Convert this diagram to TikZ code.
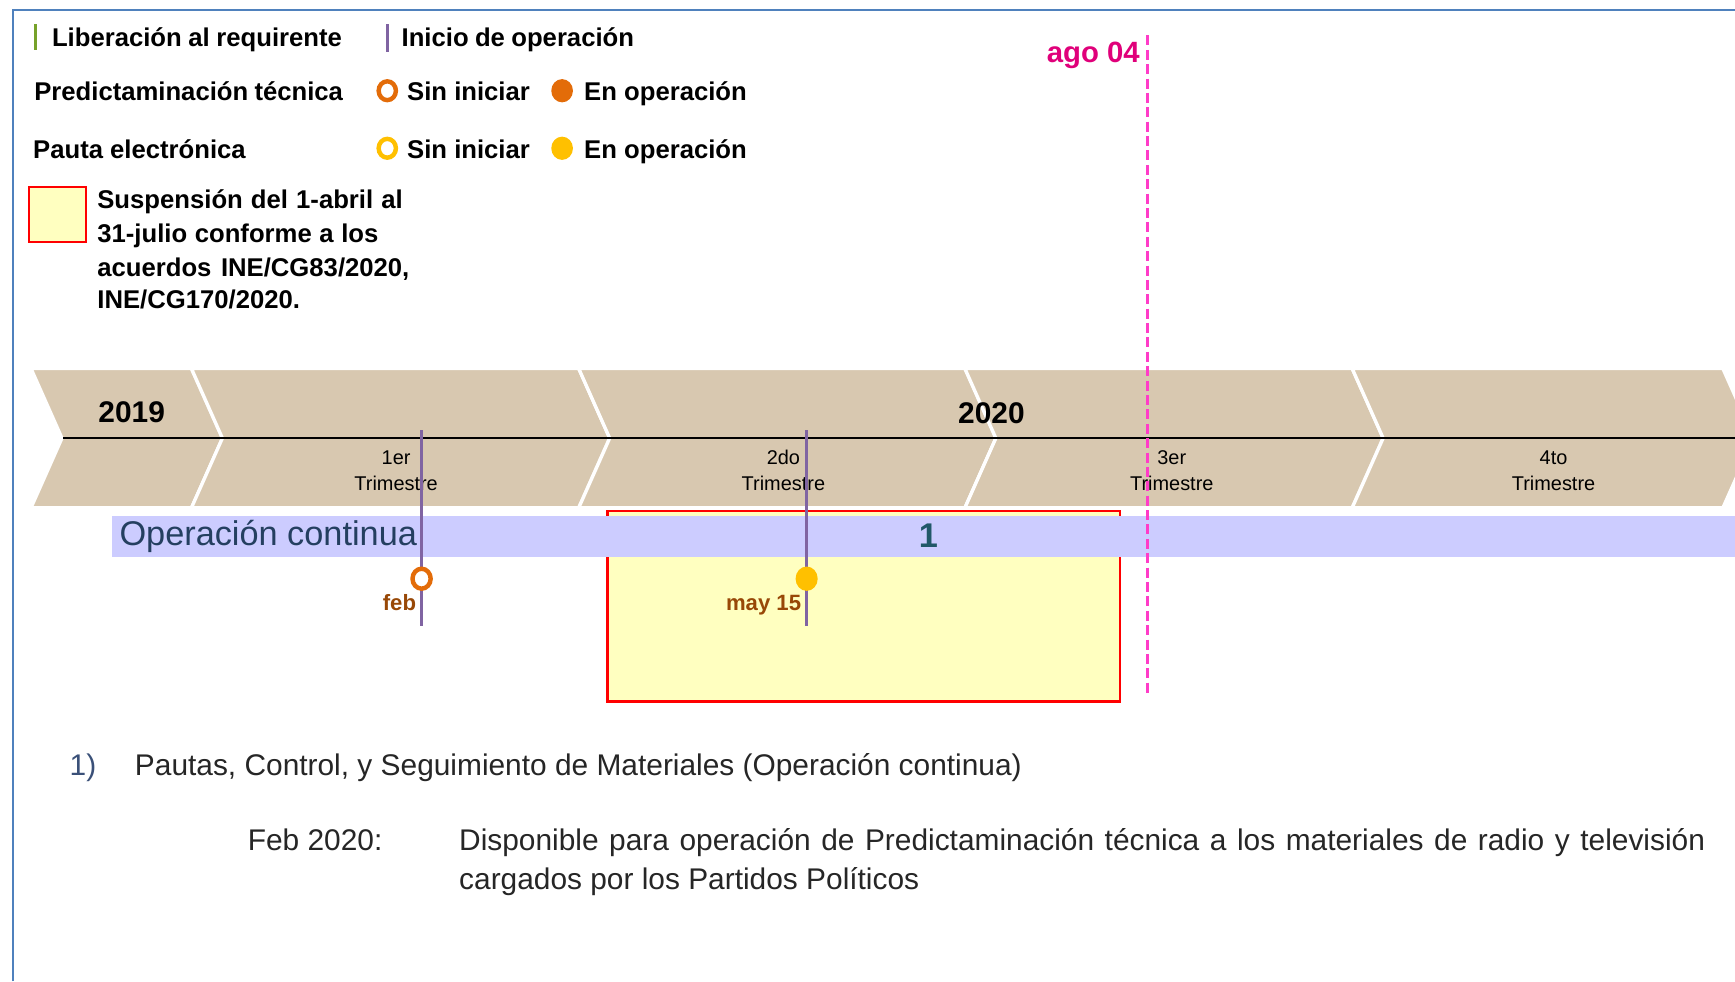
\documentclass[tikz,border=0pt]{standalone}
\usepackage{fontspec}
\setmainfont{Liberation Sans}
\usetikzlibrary{shapes.geometric}
\definecolor{frameblue}{HTML}{4F81BD}
\definecolor{legGreen}{HTML}{77A22A}
\definecolor{legPurple}{HTML}{8064A2}
\definecolor{pOrange}{HTML}{E36C09}
\definecolor{pYellow}{HTML}{FFC000}
\definecolor{suspFill}{HTML}{FFFFC0}
\definecolor{suspRed}{HTML}{FF0000}
\definecolor{chevTan}{HTML}{D8C8B0}
\definecolor{barBlue}{HTML}{CCCCFF}
\definecolor{opText}{HTML}{243F60}
\definecolor{numTeal}{HTML}{215868}
\definecolor{agoMag}{HTML}{E0007A}
\definecolor{dashPink}{HTML}{FF3CC8}
\definecolor{brownTxt}{HTML}{984807}
\definecolor{bodyGray}{HTML}{262626}
\definecolor{numBlue}{HTML}{3A5078}
\begin{document}
\begin{tikzpicture}[x=0.5pt,y=-0.5pt,
  txt/.style={inner sep=0pt, outer sep=0pt},
  legtxt/.style={txt, anchor=base west, font=\fontsize{11.6}{13.5}\selectfont\bfseries},
  legbar/.style={line width=1.5pt},
  opendot/.style={ellipse, draw=#1, fill=white, line width=2pt, minimum width=7.8pt, minimum height=8.5pt, inner sep=0pt},
  fulldot/.style={ellipse, fill=#1, minimum width=9.8pt, minimum height=10.5pt, inner sep=0pt},
  chevron/.style={fill=chevTan, draw=white, line width=1.5pt, line join=miter},
  yearlbl/.style={txt, anchor=base, font=\fontsize{13.5}{16}\selectfont\bfseries},
  qlbl/.style={txt, anchor=base, font=\fontsize{9}{11}\selectfont},
  marker/.style={legPurple, line width=1.5pt},
  datelbl/.style={txt, anchor=base east, text=brownTxt, font=\fontsize{10}{12}\selectfont\bfseries},
  bodytxt/.style={txt, anchor=base west, text=bodyGray, font=\fontsize{13.5}{16}\selectfont}
]
\useasboundingbox (0,0) rectangle (1568,887);
\clip (0,0) rectangle (1568,887);
\fill[white] (0,0) rectangle (1568,887);

% frame
\draw[frameblue, line width=1pt] (12,887) -- (12,9) -- (1568,9);

% ---------- legend ----------
\draw[legbar, legGreen] (32,22) -- (32,45);
\node[legtxt] (libtxt) at (47,42) {\makebox[131pt][s]{Liberación al requirente}};
\draw[legbar, legPurple] (350,22) -- (350,47);
\node[legtxt] (initxt) at (363,42) {\makebox[105pt][s]{Inicio de operación}};

\node[legtxt] (predtxt) at (31,91) {\makebox[139.5pt][s]{Predictaminación técnica}};
\node[opendot=pOrange] (predsin) at (350,82) {};
\node[legtxt] (predsintxt) at (368,91) {Sin iniciar};
\node[fulldot=pOrange] (predop) at (508,82) {};
\node[legtxt] (predoptxt) at (528,91) {En operación};

\node[legtxt] (pautatxt) at (30,143) {Pauta electrónica};
\node[opendot=pYellow] (pautasin) at (350,134) {};
\node[legtxt] (pautasintxt) at (368,143) {Sin iniciar};
\node[fulldot=pYellow] (pautaop) at (508,134) {};
\node[legtxt] (pautaoptxt) at (528,143) {En operación};

\draw[suspRed, fill=suspFill, line width=1pt] (26,169) rectangle (78,219);
\node[legtxt] (susp1) at (88,188.5) {\makebox[138pt][s]{Suspensión del 1-abril al}};
\node[legtxt] (susp2) at (88,219.5) {\makebox[127pt][s]{31-julio conforme a los}};
\node[legtxt] (susp3) at (88,249.5) {\makebox[141pt][s]{acuerdos INE/CG83/2020,}};
\node[legtxt] (susp4) at (88,278.5) {INE/CG170/2020.};

% ---------- chevrons ----------
\foreach \L/\R in {28/173,173/523,523/872,872/1222,1222/1557}
  \path[chevron] (\L,333) -- (\L+28,396) -- (\L,459) -- (\R,459) -- (\R+28,396) -- (\R,333) -- cycle;
\coordinate (tlstart) at (57,396);
\coordinate (tlend) at (1568,396);
\draw[black, line width=1pt] (tlstart) -- (tlend);

\node[yearlbl] (y2019) at (119,382) {2019};
\node[yearlbl] (y2020) at (896,383) {2020};
\node[qlbl] (q1a) at (358,420) {1er};
\node[qlbl] (q1b) at (358,443) {Trimestre};
\node[qlbl] (q2a) at (708,420) {2do};
\node[qlbl] (q2b) at (708,443) {Trimestre};
\node[qlbl] (q3a) at (1059,420) {3er};
\node[qlbl] (q3b) at (1059,443) {Trimestre};
\node[qlbl] (q4a) at (1404,420) {4to};
\node[qlbl] (q4b) at (1404,443) {Trimestre};

% ---------- suspension box and bar ----------
\draw[suspRed, fill=suspFill, line width=1pt] (549,462) rectangle (1012,634);
\fill[barBlue] (101,466) rectangle (1568,503);
\node[txt, anchor=base west, text=opText, font=\fontsize{15.5}{18}\selectfont] (optxt) at (108,493) {Operación continua};
\node[txt, anchor=base, text=numTeal, font=\fontsize{15.5}{18}\selectfont\bfseries] (one) at (839,495) {1};

% ---------- markers ----------
\coordinate (m1top) at (381,389);
\coordinate (m1bot) at (381,566);
\coordinate (m2top) at (729,389);
\coordinate (m2bot) at (729,566);
\draw[marker] (m1top) -- (m1bot);
\draw[marker] (m2top) -- (m2bot);
\node[opendot=pOrange, minimum width=8.2pt, minimum height=9pt] (febdot) at (381,523) {};
\node[fulldot=pYellow, minimum width=10pt, minimum height=11pt] (maydot) at (729,523) {};
\node[datelbl] (febtxt) at (376,552) {feb};
\node[datelbl] (maytxt) at (724,552) {may 15};

% ---------- ago 04 ----------
\coordinate (agotop) at (1037,32);
\coordinate (agobot) at (1037,630);
\draw[dashPink, line width=1.25pt, dash pattern=on 4.5pt off 2pt] (agotop) -- (agobot);
\node[txt, anchor=base east, text=agoMag, font=\fontsize{13.25}{16}\selectfont\bfseries] (agotxt) at (1030,56.5) {ago 04};

% ---------- notes ----------
\node[txt, anchor=base west, text=numBlue, font=\fontsize{13.5}{16}\selectfont] (n1) at (63,700.5) {1)};
\node[bodytxt] (n1txt) at (122,700.5) {Pautas, Control, y Seguimiento de Materiales (Operación continua)};
\node[bodytxt] (febnote) at (224,769) {Feb 2020:};
\node[bodytxt] (desc1) at (415,769) {\makebox[563pt][s]{Disponible para operación de Predictaminación técnica a los materiales de radio y televisión}};
\node[bodytxt] (desc2) at (415,804) {cargados por los Partidos Políticos};
\end{tikzpicture}
\end{document}
